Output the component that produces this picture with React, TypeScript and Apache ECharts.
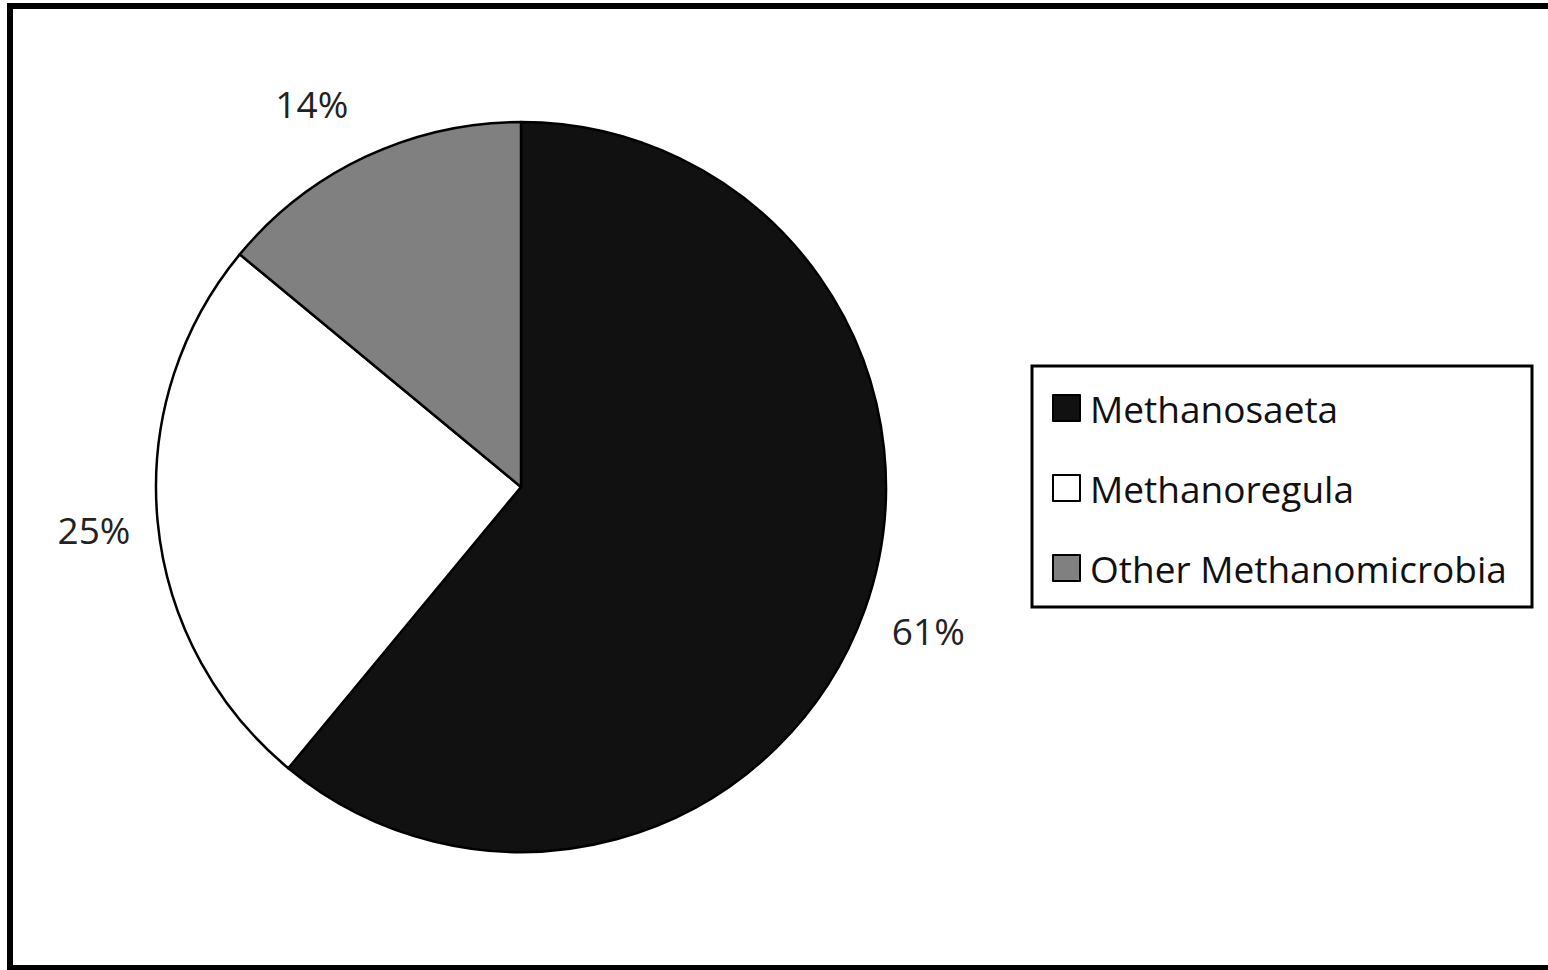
import React, { useEffect, useRef } from "react";
import * as echarts from "echarts";

const categories = ["Methanosaeta", "Methanoregula", "Other Methanomicrobia"];
const shares = [61, 25, 14];
const sliceColors = ["#111111", "#ffffff", "#808080"];

const FONT = "Open Sans";

export default function App() {
  const ref = useRef<HTMLDivElement>(null);
  useEffect(() => {
    document.body.style.margin = "0";
    const chart = echarts.init(ref.current!, null, { renderer: "svg" });
    const data = categories.map((name, i) => ({
      name,
      value: shares[i],
      itemStyle: { color: sliceColors[i] },
    }));
    const labelOffsets = [[-2, -4], [6, 2], [-24, 10]];
    chart.setOption({
      animation: false,
      backgroundColor: "#ffffff",
      graphic: [
        {
          type: "rect",
          shape: { x: 10, y: 6, width: 1545, height: 962 },
          style: { fill: "none", stroke: "#000", lineWidth: 6 },
          silent: true,
        },
        {
          type: "rect",
          shape: { x: 1032, y: 366, width: 500, height: 241 },
          style: { fill: "#fff", stroke: "#000", lineWidth: 3 },
          silent: true,
          z: -1,
        },
      ],
      legend: {
        data: categories,
        orient: "vertical",
        left: 1052,
        top: 388,
        padding: 0,
        itemWidth: 27,
        itemHeight: 26,
        itemGap: 40,
        icon: "rect",
        itemStyle: { borderColor: "#000", borderWidth: 2 },
        textStyle: {
          fontFamily: FONT,
          fontSize: 37,
          color: "#111",
          lineHeight: 40,
          padding: [0, 0, 0, 5],
        },
        selectedMode: false,
      },
      series: [
        {
          type: "pie",
          center: [521, 487],
          radius: 365,
          startAngle: 90,
          clockwise: true,
          silent: true,
          itemStyle: { borderColor: "#000", borderWidth: 2.5 },
          label: { show: false },
          labelLine: { show: false },
          emphasis: { disabled: true },
          data,
        },
        {
          type: "pie",
          center: [521, 487],
          radius: [420, 444],
          startAngle: 90,
          clockwise: true,
          silent: true,
          itemStyle: { color: "rgba(0,0,0,0)", borderWidth: 0 },
          label: {
            show: true,
            position: "inside",
            formatter: (p: any) => p.value + "%",
            fontFamily: FONT,
            fontSize: 37,
            color: "#222",
          },
          labelLine: { show: false },
          emphasis: { disabled: true },
          data: categories.map((name, i) => ({
            name,
            value: shares[i],
            label: { offset: labelOffsets[i] },
          })),
        },
      ],
    });
    return () => chart.dispose();
  }, []);
  return <div ref={ref} style={{ width: 1548, height: 970 }} />;
}
